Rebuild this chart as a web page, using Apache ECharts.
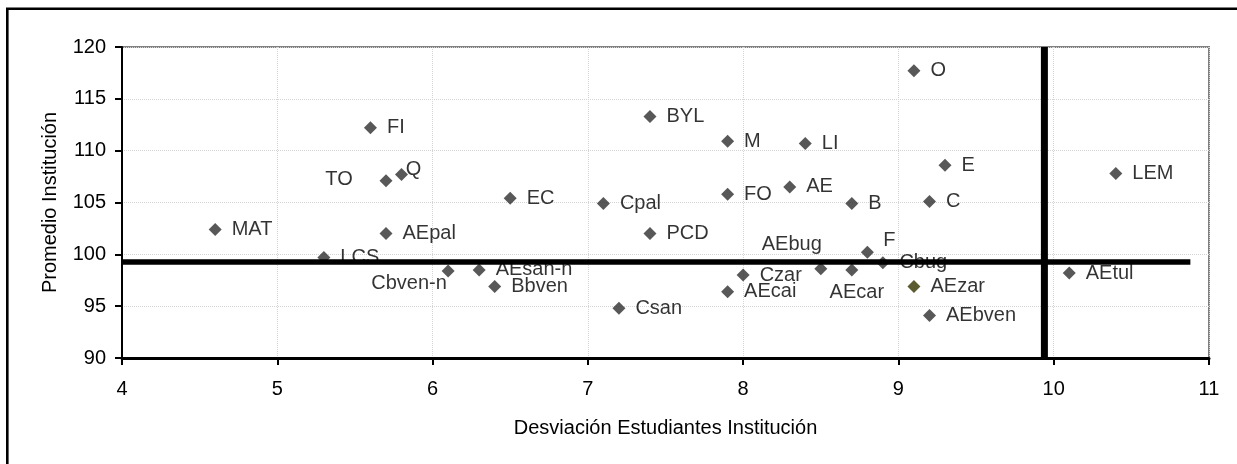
<!DOCTYPE html>
<html>
<head>
<meta charset="utf-8">
<title>Promedio vs Desviación</title>
<script src="https://cdn.jsdelivr.net/npm/echarts@6/dist/echarts.min.js"></script>
<style>
  html, body { margin: 0; padding: 0; background: #fff; overflow: hidden; }
  #chart { width: 1237px; height: 464px; }
</style>
</head>
<body>
<div id="chart"></div>
<script>
// instituciones
var names = ['MAT', 'LCS', 'FI', 'TO', 'Q', 'AEpal', 'Cbven-n', 'AEsan-n', 'Bbven', 'EC',
  'Cpal', 'Csan', 'BYL', 'PCD', 'M', 'FO', 'AEcai', 'Czar', 'AE', 'LI',
  'AEbug', 'B', 'AEcar', 'F', 'Cbug', 'O', 'AEzar', 'C', 'AEbven', 'E',
  'AEtul', 'LEM']
// desviación estudiantes
var desviacion = [4.6, 5.3, 5.6, 5.7, 5.8, 5.7, 6.1, 6.3, 6.4, 6.5,
  7.1, 7.2, 7.4, 7.4, 7.9, 7.9, 7.9, 8.0, 8.3, 8.4,
  8.5, 8.7, 8.7, 8.8, 8.9, 9.1, 9.1, 9.2, 9.2, 9.3,
  10.1, 10.4]
// promedio institución
var promedio = [102.4, 99.7, 112.2, 107.1, 107.7, 102.0, 98.4, 98.5, 96.9, 105.4,
  104.9, 94.8, 113.3, 102.0, 110.9, 105.8, 96.4, 98.0, 106.5, 110.7,
  98.6, 104.9, 98.5, 100.2, 99.2, 117.7, 96.9, 105.1, 94.1, 108.6,
  98.2, 107.8]
// lineas de referencia
var refX = 9.94
var refY = 99.25
var refYEnd = 10.88

// etiquetas que no van a la derecha (desplazamiento del centro)
var labelOffsets = {
  'TO': [-47, -1],
  'Q': [12, -5],
  'Cbven-n': [-39, 13],
  'AEbug': [-29, -24],
  'AEcar': [5, 23],
  'F': [22, -12]
}
var oddColor = { 'AEzar': '#333300' }

var font = 'Liberation Sans, Arial, sans-serif'

var points = names.map(function (n, i) {
  var item = { name: n, value: [desviacion[i], promedio[i]] }
  if (labelOffsets[n]) {
    item.label = { position: 'inside', offset: labelOffsets[n], align: 'center', verticalAlign: 'middle' }
  }
  if (oddColor[n]) {
    item.itemStyle = { color: oddColor[n] }
  }
  return item
})

var chart = echarts.init(document.getElementById('chart'))
var option = {
  animation: false,
  textStyle: { fontFamily: font },
  graphic: [{
    type: 'rect',
    shape: { x: 7.3, y: 8.7, width: 1500, height: 700 },
    style: { fill: 'none', stroke: '#000', lineWidth: 2.6 },
    silent: true,
    z: 100
  }],
  grid: {
    left: 122, right: 28, top: 47, bottom: 106,
    show: true, borderColor: '#808080', borderWidth: 2, backgroundColor: '#fff'
  },
  xAxis: {
    type: 'value', min: 4, max: 11, interval: 1,
    name: 'Desviación Estudiantes Institución',
    nameLocation: 'middle', nameGap: 60,
    nameTextStyle: { color: '#000', fontSize: 20, fontFamily: font },
    axisLine: { show: true, onZero: false, lineStyle: { color: '#000', width: 3 } },
    axisTick: { show: true, length: 7, lineStyle: { color: '#000', width: 2 } },
    axisLabel: { color: '#000', fontSize: 20, margin: 21, fontFamily: font },
    splitLine: { show: true, lineStyle: { color: '#d4d4d4', type: 'dotted', width: 1 } }
  },
  yAxis: {
    type: 'value', min: 90, max: 120, interval: 5,
    name: 'Promedio Institución',
    nameLocation: 'middle', nameGap: 62,
    nameTextStyle: { color: '#000', fontSize: 20, fontFamily: font },
    axisLine: { show: true, onZero: false, lineStyle: { color: '#000', width: 2 } },
    axisTick: { show: true, length: 7, lineStyle: { color: '#000', width: 2 } },
    axisLabel: { color: '#000', fontSize: 20, margin: 16, fontFamily: font },
    splitLine: { show: true, lineStyle: { color: '#d4d4d4', type: 'dotted', width: 1 } }
  },
  series: [
    {
      type: 'scatter',
      symbol: 'diamond',
      symbolSize: 13,
      itemStyle: { color: '#2e2e2e' },
      label: {
        show: true, position: 'right', distance: 10,
        formatter: '{b}', color: '#000', fontSize: 20, fontFamily: font
      },
      data: points,
      z: 3
    },
    {
      type: 'line',
      data: [[refX, 90], [refX, 120]],
      symbol: 'none', silent: true,
      lineStyle: { color: '#000', width: 7 },
      z: 5
    },
    {
      type: 'line',
      data: [[4, refY], [refYEnd, refY]],
      symbol: 'none', silent: true,
      lineStyle: { color: '#000', width: 5.5 },
      z: 5
    }
  ]
}
chart.setOption(option)
</script>
</body>
</html>
